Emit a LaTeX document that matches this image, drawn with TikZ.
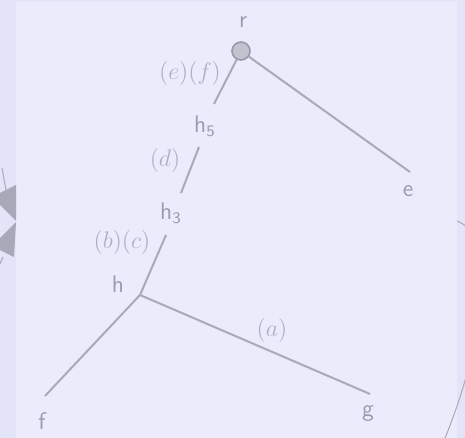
\documentclass[tikz,border=0pt]{standalone}
\usepackage{tikz}
\definecolor{outerbg}{HTML}{E4E4F9}
\definecolor{innerbg}{HTML}{EBEBFC}
\definecolor{edgecol}{HTML}{A9A9BA}
\definecolor{txtcol}{HTML}{9A9AB2}
\definecolor{lblcol}{HTML}{AEAEC8}
\definecolor{shapecol}{HTML}{A8A8B8}
\begin{document}
\begin{tikzpicture}[x=0.5pt,y=-0.5pt,
  treeedge/.style={draw=edgecol,line width=1pt},
  nodetxt/.style={inner sep=0pt,text=txtcol,font=\fontsize{12}{14}\selectfont\sffamily},
  edgelbl/.style={inner sep=0pt,text=lblcol,font=\fontsize{12}{14}\selectfont}]
\useasboundingbox (0,0) rectangle (465,438);
\fill[outerbg] (0,0) rectangle (465,438);
\fill[innerbg] (16,2) rectangle (457,438);
% left partial shapes
\fill[shapecol] (16,185) -- (16,221) -- (0,205) -- (0,193) -- cycle;
\fill[shapecol] (16,222) -- (14,257) -- (0,250) -- (0,238) -- cycle;
\draw[edgecol,line width=0.5pt] (2,168) -- (6,190);
\draw[edgecol,line width=0.5pt] (0,264) -- (3,257);
% right partial arc
\draw[edgecol,line width=0.5pt] (457,221) .. controls (505,239) and (475,366) .. (445,438);
% tree
\node[circle,draw=edgecol!90!black,fill=edgecol!70!white,line width=0.8pt,minimum size=9pt,inner sep=0pt] (r) at (241,51) {};
\node[nodetxt] (rl) at (243,22) {r};
\node[nodetxt] (h5) at (205,126) {$\mathsf{h}_{\mathsf{5}}$};
\node[nodetxt] (h3) at (171,213) {$\mathsf{h}_{\mathsf{3}}$};
\node[nodetxt] (hl) at (118,284) {h};
\node[nodetxt] (e) at (408,191) {e};
\node[nodetxt] (f) at (42,421) {f};
\node[nodetxt] (g) at (368,414) {g};
\coordinate (h) at (140,295);
\coordinate (h5top) at (214,104);
\coordinate (h5bot) at (199,147);
\coordinate (h3top) at (181,193);
\coordinate (h3bot) at (166,235);
\coordinate (etop) at (410,172);
\coordinate (ftop) at (45,396);
\coordinate (gtop) at (370,394);
\draw[treeedge] (r) -- (etop);
\draw[treeedge] (r) -- (h5top);
\draw[treeedge] (h5bot) -- (h3top);
\draw[treeedge] (h3bot) -- (h);
\draw[treeedge] (h) -- (ftop);
\draw[treeedge] (h) -- (gtop);
\node[edgelbl] (lef) at (190,74) {$(e)(f)$};
\node[edgelbl] (ld) at (165,161) {$(d)$};
\node[edgelbl] (lbc) at (122,243) {$(b)(c)$};
\node[edgelbl] (la) at (272,330) {$(a)$};
\end{tikzpicture}
\end{document}
